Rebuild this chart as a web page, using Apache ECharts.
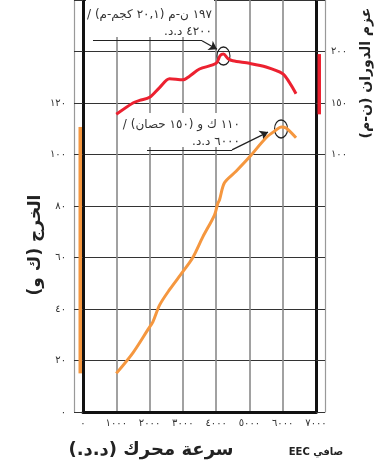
<!DOCTYPE html>
<html>
<head>
<meta charset="utf-8">
<script src="https://cdn.jsdelivr.net/npm/echarts@6/dist/echarts.min.js"></script>
<style>
html, body { margin: 0; padding: 0; background: #fff; }
#chart { width: 379px; height: 463px; }
</style>
</head>
<body>
<div id="chart"></div>
<script>
// torque curve (N-m) against engine speed (rpm)
const rpmTorque = [1000, 1500, 1700, 2000, 2300, 2600, 3000, 3200, 3500, 4000, 4120, 4220, 4360, 4500, 5000, 5500, 6000, 6200, 6400];
const torque = [139, 150, 152.5, 155.5, 165, 173.5, 172.5, 176, 183, 188.5, 196, 197.5, 193, 191, 188.5, 185, 178.5, 170, 159];

// power curve (kW) against engine speed (rpm)
const rpmPower = [1000, 1500, 1950, 2100, 2300, 2600, 3000, 3300, 3600, 3950, 4050, 4100, 4250, 4600, 5000, 5500, 5800, 5950, 6100, 6400];
const power = [15, 23, 32, 35, 41.5, 47.5, 54.5, 60, 68, 76.5, 81, 82.3, 89, 93.5, 99, 106.5, 109.5, 110.7, 110.3, 106.5];

const speedTicks = [0, 1000, 2000, 3000, 4000, 5000, 6000, 7000];
const powerTicks = [0, 20, 40, 60, 80, 100, 120];
const torqueTicks = [100, 150, 200];

const torqueNote = ['١٩٧ ن-م (٢٠,١ كجم-م) /', '٤٢٠٠ د.د.'];
const powerNote = ['١١٠ ك و (١٥٠ حصان) /', '٦٠٠٠ د.د.'];

const RED = '#ec2130';
const ORANGE = '#f5973f';
const FONT = 'DejaVu Sans';

const AR = '٠١٢٣٤٥٦٧٨٩';
const toAr = s => String(s).replace(/\d/g, d => AR[d]);
const rtl = s => '\u202B' + s + '\u202C';

function peakOf(xs, ys) {
    let i = ys.indexOf(Math.max(...ys));
    return [xs[i], ys[i]];
}

let chart = echarts.init(document.getElementById('chart'));

let labelStyle = { fontSize: 10, color: '#333', fontFamily: FONT };

let outerAxis = pos => ({
    type: 'value', position: pos, offset: 9, min: 0, max: 160,
    axisLine: { show: true, onZero: false, lineStyle: { color: '#999', width: 1.2 } },
    axisTick: { show: false }, axisLabel: { show: false }, splitLine: { show: false }
});

let noteLine = {
    silent: true,
    animation: false,
    symbol: ['none', 'none'],
    symbolSize: 8,
    label: { show: false },
    lineStyle: { color: '#222', width: 1.2, type: 'solid' }
};

let ring = {
    silent: true,
    symbol: 'circle',
    symbolSize: [13, 18],
    symbolOffset: [0, 2],
    itemStyle: { color: 'rgba(0,0,0,0)', borderColor: '#222', borderWidth: 1.3 },
    label: { show: false }
};

chart.setOption({
    animation: false,
    grid: { left: 83, right: 63, top: -1.5, bottom: 51 },
    xAxis: {
        type: 'value', min: 0, max: 7000, interval: 1000,
        axisLine: { onZero: false, lineStyle: { color: '#111', width: 3 } },
        axisTick: { show: false },
        axisLabel: Object.assign({ margin: 6, formatter: v => speedTicks.includes(v) ? toAr(v) : '' }, labelStyle),
        splitLine: { lineStyle: { color: '#8a8a8a', width: 1.6 } }
    },
    yAxis: [
        {
            type: 'value', position: 'left', min: 0, max: 160, interval: 20,
            axisLine: { show: true, onZero: false, lineStyle: { color: '#111', width: 3 } },
            axisTick: { show: true, length: 9, lineStyle: { color: '#333', width: 1 } },
            axisLabel: Object.assign({ margin: 17, formatter: v => powerTicks.includes(v) ? toAr(v) : '' }, labelStyle),
            splitLine: { lineStyle: { color: '#333', width: 1 } }
        },
        {
            type: 'value', position: 'right', min: -150, max: 250, interval: 50,
            axisLine: { show: true, onZero: false, lineStyle: { color: '#111', width: 3 } },
            axisTick: { show: true, length: 9, lineStyle: { color: '#333', width: 1 } },
            axisLabel: Object.assign({ margin: 15, formatter: v => torqueTicks.includes(v) ? toAr(v) : '' }, labelStyle),
            splitLine: { show: false }
        },
        outerAxis('left'),
        outerAxis('right')
    ],
    series: [
        {
            type: 'line', yAxisIndex: 1, z: 5,
            data: rpmTorque.map((r, i) => [r, torque[i]]),
            smooth: 0.3, symbol: 'none',
            lineStyle: { color: RED, width: 3 },
            markPoint: Object.assign({ data: [{ coord: peakOf(rpmTorque, torque) }] }, ring),
            markLine: Object.assign({}, noteLine, {
                data: [
                    [{ coord: [300, 210.5] }, { coord: [3575, 210.5] }],
                    [{ coord: [3575, 210.5] }, { coord: [4026, 202.1], symbol: 'arrow' }]
                ]
            })
        },
        {
            type: 'line', yAxisIndex: 0, z: 5,
            data: rpmPower.map((r, i) => [r, power[i]]),
            smooth: 0.3, symbol: 'none',
            lineStyle: { color: ORANGE, width: 3 },
            markPoint: Object.assign({ data: [{ coord: peakOf(rpmPower, power) }] }, ring),
            markLine: Object.assign({}, noteLine, {
                data: [
                    [{ coord: [1923, 101.8] }, { coord: [4476, 101.8] }],
                    [{ coord: [4476, 101.8] }, { coord: [5558, 108.7], symbol: 'arrow' }]
                ]
            })
        }
    ]
});

// range bars beside the axes, from the min and max of each curve
let xLeft = chart.convertToPixel({ xAxisIndex: 0 }, 0);
let xRight = chart.convertToPixel({ xAxisIndex: 0 }, 7000);
let pTop = chart.convertToPixel({ yAxisIndex: 0 }, Math.max(...power));
let pBottom = chart.convertToPixel({ yAxisIndex: 0 }, Math.min(...power));
let tTop = chart.convertToPixel({ yAxisIndex: 1 }, Math.max(...torque));
let tBottom = chart.convertToPixel({ yAxisIndex: 1 }, Math.min(...torque));

let noteText = (lines, x, y) => ({
    type: 'text', x: x, y: y, z: 1,
    style: {
        text: lines.map(rtl).join('\n'),
        font: '12px ' + FONT, fill: '#333',
        align: 'right', verticalAlign: 'top', lineHeight: 17
    }
});

let title = (text, x, y, rot, size) => ({
    type: 'text', x: x, y: y, rotation: rot,
    style: {
        text: rtl(text), font: 'bold ' + size + 'px ' + FONT, fill: '#222',
        align: 'center', verticalAlign: 'middle'
    }
});

chart.setOption({
    graphic: [
        { type: 'rect', z: 1, shape: { x: 86, y: -2, width: 128, height: 39 }, style: { fill: '#fff' } },
        { type: 'rect', z: 1, shape: { x: 121, y: 113, width: 124, height: 34 }, style: { fill: '#fff' } },
        noteText(torqueNote, 212, 6),
        noteText(powerNote, 240, 116),
        { type: 'rect', z: 3, shape: { x: xLeft - 4.5, y: pTop, width: 3.5, height: pBottom - pTop }, style: { fill: ORANGE } },
        { type: 'rect', z: 3, shape: { x: xRight + 1.5, y: tTop, width: 3.5, height: tBottom - tTop }, style: { fill: RED } },
        title('الخرج (ك و)', 36, 245, Math.PI / 2, 17),
        title('عزم الدوران (ن-م)', 366, 73, Math.PI / 2, 14),
        title('سرعة محرك (د.د.)', 151, 450, 0, 18),
        {
            type: 'text', x: 316, y: 452,
            style: { text: 'EEC صافي', font: 'bold 10px ' + FONT, fill: '#222', align: 'center', verticalAlign: 'middle' }
        }
    ]
});
</script>
</body>
</html>
